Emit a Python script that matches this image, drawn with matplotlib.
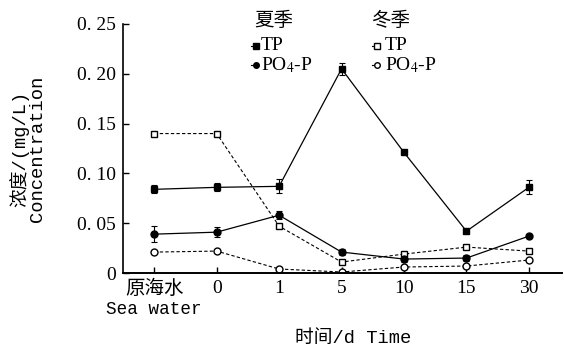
import matplotlib
matplotlib.use('Agg')
import matplotlib.pyplot as plt
import numpy as np

plt.rcParams['font.family'] = ['Liberation Serif', 'Noto Sans CJK SC']
plt.rcParams['mathtext.fontset'] = 'stix'

# data
cats = ['原海水', '0', '1', '5', '10', '15', '30']
cat0_en = 'Sea water'
summer_tp = [0.084, 0.086, 0.087, 0.205, 0.121, 0.042, 0.086]
summer_tp_err = [0.004, 0.004, 0.007, 0.006, 0.002, 0.002, 0.007]
summer_po4 = [0.039, 0.041, 0.058, 0.021, 0.014, 0.015, 0.037]
summer_po4_err = [0.008, 0.005, 0.004, 0.003, 0.003, 0.003, 0.002]
winter_tp = [0.140, 0.140, 0.047, 0.011, 0.019, 0.026, 0.022]
winter_po4 = [0.021, 0.022, 0.004, 0.001, 0.006, 0.007, 0.013]
yticks = [0, 0.05, 0.10, 0.15, 0.20, 0.25]
yticklabels = ['0', '0. 05', '0. 10', '0. 15', '0. 20', '0. 25']

fig = plt.figure(figsize=(5.64, 3.48), dpi=100)
ax = fig.add_axes([123/564, 1-273/348, (562-123)/564, (273-24)/348])
x = np.arange(len(cats))

ax.errorbar(x, summer_tp, yerr=summer_tp_err, color='black', lw=0.9, marker='s',
            ms=5, mfc='black', capsize=2.5, elinewidth=0.8, capthick=0.8)
ax.errorbar(x, summer_po4, yerr=summer_po4_err, color='black', lw=0.9, marker='o',
            ms=5, mfc='black', capsize=2.5, elinewidth=0.8, capthick=0.8)
ax.plot(x, winter_tp, color='black', lw=0.8, ls=(0, (3, 2)), marker='s', ms=5,
        mfc='white', mew=1.0)
ax.plot(x, winter_po4, color='black', lw=0.8, ls=(0, (3, 2)), marker='o', ms=5,
        mfc='white', mew=1.0)

ax.set_xlim(-0.5, 6.53)
ax.set_ylim(0, 0.25)
ax.set_xticks(x)
ax.set_xticklabels(cats, fontsize=14)
ax.text(x[0], -0.147, cat0_en, transform=ax.get_xaxis_transform(), ha='center',
        va='center', fontsize=12.7, family=['Liberation Mono'])
ax.set_yticks(yticks)
ax.set_yticklabels(yticklabels, fontsize=14)
ax.tick_params(direction='in', length=4, width=1, pad=5)
ax.spines['top'].set_visible(False)
ax.spines['right'].set_visible(False)
ax.spines['left'].set_linewidth(1.2)
ax.spines['bottom'].set_linewidth(1.4)

ax.set_ylabel('浓度/(mg/L)\nConcentration', fontsize=13.5, linespacing=0.95,
              family=['Liberation Mono', 'Noto Sans CJK SC'])
ax.yaxis.set_label_coords(-0.175, 0.5)
ax.set_xlabel('时间/d Time', fontsize=13.5, family=['Liberation Mono', 'Noto Sans CJK SC'])
ax.xaxis.set_label_coords((353-123)/439, -0.23)

# legend drawn by hand
def fx(px):
    return px / 564
def fy(py):
    return 1 - py / 348

fig.text(fx(254), fy(20), '夏季', fontsize=14, va='center', family=['Noto Sans CJK SC'])
fig.text(fx(371), fy(20), '冬季', fontsize=14, va='center', family=['Noto Sans CJK SC'])
entries = [(251, 46, 's', 'black', 'TP'), (251, 65, 'o', 'black', 'PO$_4$-P'),
           (372, 46, 's', 'white', 'TP'), (372, 65, 'o', 'white', 'PO$_4$-P')]
for px, py, mk, fc, txt in entries:
    fig.add_artist(plt.Line2D([fx(px), fx(px + 5)], [fy(py), fy(py)], color='black',
                              lw=0.8, marker=mk, ms=4, mfc=fc, markevery=[1],
                              transform=fig.transFigure))
    tx = px + 10 if fc == 'black' else px + 13
    fig.text(fx(tx), fy(py), txt, fontsize=14, va='center')

fig.savefig('out.png', dpi=100)
